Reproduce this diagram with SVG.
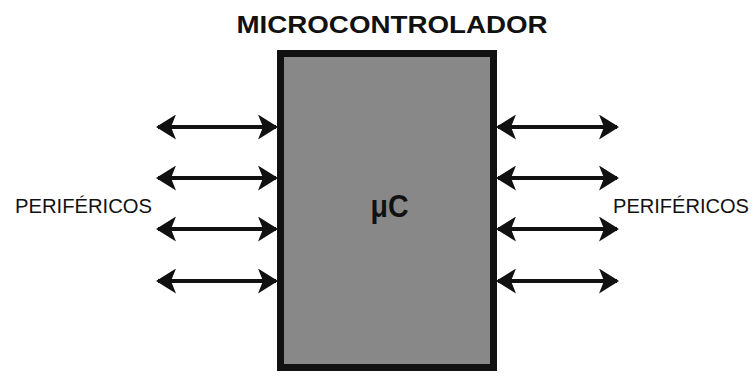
<svg xmlns="http://www.w3.org/2000/svg" width="754" height="377" viewBox="0 0 754 377">
<defs>
<style>
.lbl{font-family:"Liberation Sans",Arial,sans-serif;fill:#111;}
.conn{stroke:#111;stroke-width:4;fill:none;marker-start:url(#ah);marker-end:url(#ah);}
</style>
<marker id="ah" viewBox="0 0 10 10" refX="9" refY="5" markerUnits="userSpaceOnUse" markerWidth="20" markerHeight="25" orient="auto-start-reverse" preserveAspectRatio="none">
<path d="M0,0 L10,5 L0,10 L2.5,5 Z" fill="#111"/>
</marker>
</defs>
<rect width="754" height="377" fill="#fff"/>
<g id="title"><text class="lbl" x="392" y="33" font-size="24" font-weight="bold" text-anchor="middle" textLength="311" lengthAdjust="spacingAndGlyphs">MICROCONTROLADOR</text></g>
<g id="mcu">
<rect x="280.5" y="53.5" width="213" height="314" fill="#888" stroke="#111" stroke-width="7"/>
<text class="lbl" x="389.5" y="217" font-size="32" font-weight="bold" text-anchor="middle" textLength="38" lengthAdjust="spacingAndGlyphs">μC</text>
</g>
<g id="perifericos-left"><text class="lbl" x="15" y="213" font-size="20" textLength="137" lengthAdjust="spacingAndGlyphs">PERIFÉRICOS</text></g>
<g id="perifericos-right"><text class="lbl" x="613" y="213" font-size="20" textLength="136" lengthAdjust="spacingAndGlyphs">PERIFÉRICOS</text></g>
<g id="connectors">
<line class="conn" x1="158" y1="127" x2="276" y2="127"/>
<line class="conn" x1="158" y1="178" x2="276" y2="178"/>
<line class="conn" x1="158" y1="229" x2="276" y2="229"/>
<line class="conn" x1="158" y1="281" x2="276" y2="281"/>
<line class="conn" x1="498" y1="127" x2="617" y2="127"/>
<line class="conn" x1="498" y1="178" x2="617" y2="178"/>
<line class="conn" x1="498" y1="229" x2="617" y2="229"/>
<line class="conn" x1="498" y1="281" x2="617" y2="281"/>
</g>
</svg>
